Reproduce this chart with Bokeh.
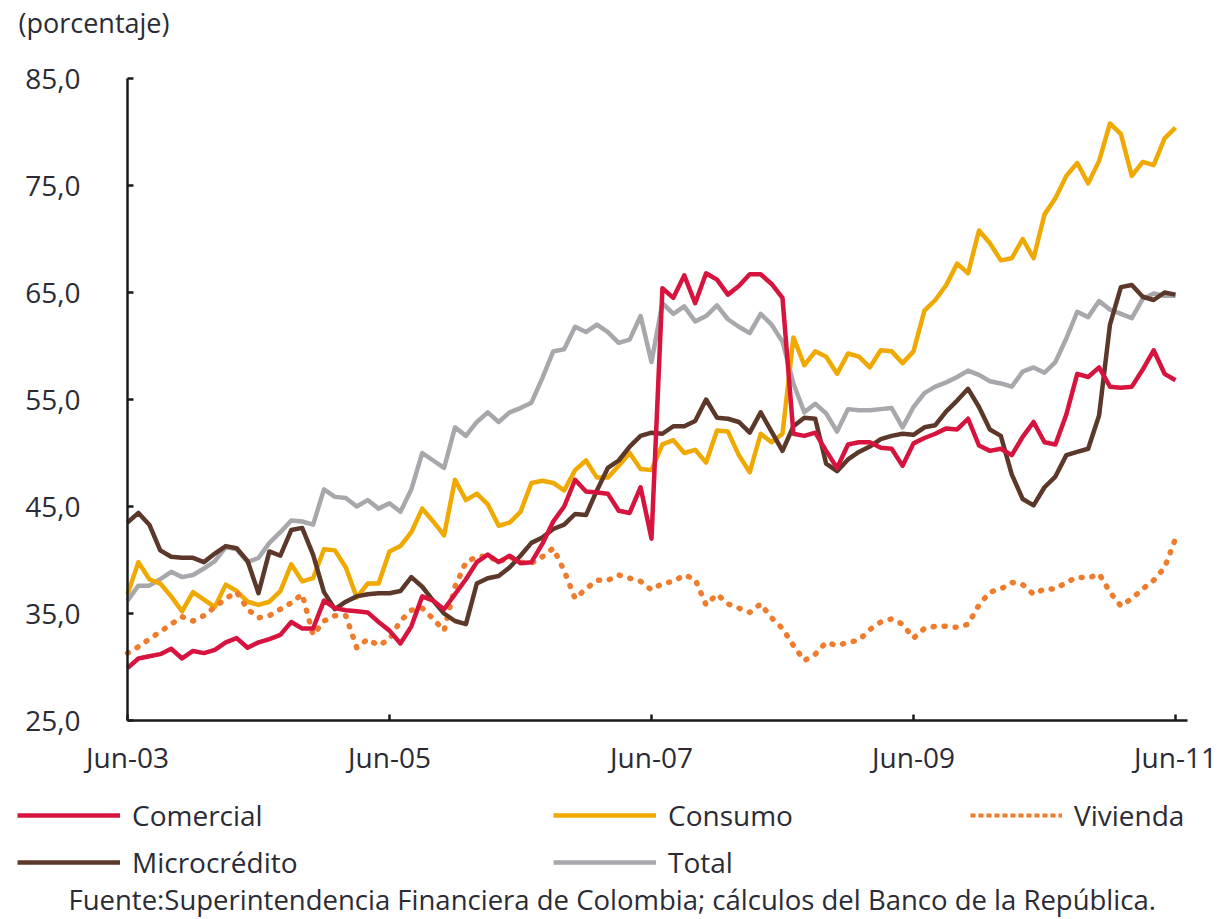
from bokeh.plotting import figure
from bokeh.models import FixedTicker, Range1d, Label, Legend, LegendItem
from bokeh.embed import file_html
from bokeh.resources import INLINE

FONT = "Open Sans"
TXT = "#2b2b36"

# ---------------- data (monthly, Jun-03 .. Jun-11) ----------------
months = list(range(97))

comercial = [
    29.9, 30.8, 31.0, 31.2, 31.7, 30.8, 31.5, 31.3, 31.6, 32.3,
    32.7, 31.8, 32.3, 32.6, 33.0, 34.2, 33.6, 33.6, 36.2, 35.5,
    35.3, 35.2, 35.1, 34.2, 33.4, 32.2, 33.8, 36.6, 36.2, 35.4,
    36.8, 38.2, 39.8, 40.5, 39.8, 40.4, 39.7, 39.8, 41.5, 43.6,
    45.0, 47.5, 46.4, 46.3, 46.2, 44.6, 44.4, 46.8, 42.0, 65.4,
    64.5, 66.6, 64.0, 66.8, 66.2, 64.8, 65.6, 66.7, 66.7, 65.8,
    64.5, 51.8, 51.6, 51.9, 50.2, 48.6, 50.8, 51.0, 51.0, 50.5,
    50.4, 48.8, 50.9, 51.4, 51.8, 52.3, 52.2, 53.2, 50.7, 50.2,
    50.4, 49.8, 51.5, 52.9, 51.0, 50.8, 53.6, 57.4, 57.1, 58.0,
    56.2, 56.1, 56.2, 57.8, 59.6, 57.4, 56.8,
]

consumo = [
    36.8, 39.8, 38.2, 37.8, 36.6, 35.2, 37.0, 36.3, 35.6, 37.7,
    37.1, 36.1, 35.8, 36.1, 37.1, 39.6, 38.0, 38.3, 41.0, 40.9,
    39.3, 36.5, 37.8, 37.8, 40.8, 41.3, 42.6, 44.8, 43.6, 42.3,
    47.5, 45.6, 46.2, 45.2, 43.2, 43.5, 44.5, 47.2, 47.4, 47.2,
    46.5, 48.4, 49.3, 47.7, 47.7, 48.8, 50.0, 48.5, 48.4, 50.8,
    51.2, 50.0, 50.3, 49.1, 52.1, 52.0, 49.8, 48.2, 51.8, 51.0,
    51.8, 60.8, 58.2, 59.5, 59.0, 57.4, 59.3, 59.0, 58.0, 59.6,
    59.5, 58.4, 59.5, 63.3, 64.3, 65.7, 67.7, 66.8, 70.8, 69.6,
    68.0, 68.2, 70.0, 68.2, 72.3, 73.8, 75.9, 77.1, 75.2, 77.3,
    80.8, 79.8, 75.9, 77.2, 76.9, 79.4, 80.4,
]

vivienda = [
    31.3, 31.9, 32.6, 33.3, 34.0, 34.7, 34.3, 34.8, 35.6, 36.4,
    37.0, 35.4, 34.6, 34.8, 35.4, 36.0, 36.8, 33.0, 34.3, 34.8,
    34.8, 31.8, 32.6, 32.0, 32.6, 34.3, 35.3, 35.5, 34.5, 33.4,
    37.5, 39.8, 40.3, 40.4, 39.8, 40.3, 39.8, 39.7, 40.3, 41.1,
    39.0, 36.4, 37.3, 38.1, 38.1, 38.6, 38.3, 38.0, 37.2, 37.8,
    38.0, 38.6, 38.2, 35.8, 36.8, 35.9, 35.5, 35.1, 35.9, 34.6,
    33.6, 32.0, 30.6, 31.2, 32.3, 32.0, 32.3, 32.5, 33.5, 34.2,
    34.5, 34.0, 32.7, 33.6, 33.8, 33.8, 33.7, 34.0, 35.8, 37.0,
    37.3, 37.9, 37.7, 36.8, 37.3, 37.3, 37.9, 38.4, 38.3, 38.7,
    37.0, 35.7, 36.4, 37.3, 38.1, 39.3, 42.0,
]

microcredito = [
    43.5, 44.4, 43.3, 40.9, 40.3, 40.2, 40.2, 39.8, 40.6, 41.3,
    41.1, 39.9, 36.9, 40.8, 40.4, 42.8, 43.0, 40.5, 37.0, 35.4,
    36.1, 36.6, 36.8, 36.9, 36.9, 37.1, 38.4, 37.5, 36.2, 35.0,
    34.3, 34.0, 37.8, 38.3, 38.5, 39.3, 40.4, 41.6, 42.1, 42.9,
    43.3, 44.3, 44.2, 46.5, 48.6, 49.3, 50.6, 51.6, 51.9, 51.8,
    52.5, 52.5, 53.0, 55.0, 53.3, 53.2, 52.9, 51.9, 53.8, 52.0,
    50.2, 52.5, 53.3, 53.2, 49.0, 48.3, 49.4, 50.1, 50.6, 51.3,
    51.6, 51.8, 51.7, 52.4, 52.6, 53.9, 54.9, 56.0, 54.3, 52.2,
    51.6, 48.0, 45.7, 45.1, 46.8, 47.8, 49.8, 50.1, 50.4, 53.5,
    62.0, 65.5, 65.7, 64.6, 64.3, 65.0, 64.8,
]

total = [
    36.2, 37.6, 37.6, 38.2, 38.9, 38.4, 38.6, 39.2, 39.9, 41.2,
    41.0, 39.8, 40.2, 41.6, 42.6, 43.7, 43.6, 43.3, 46.6, 45.9,
    45.8, 45.0, 45.6, 44.8, 45.3, 44.5, 46.6, 50.0, 49.3, 48.6,
    52.4, 51.6, 52.9, 53.8, 52.9, 53.8, 54.2, 54.7, 57.0, 59.5,
    59.7, 61.8, 61.3, 62.0, 61.3, 60.3, 60.6, 62.8, 58.5, 64.0,
    63.0, 63.7, 62.3, 62.8, 63.8, 62.5, 61.8, 61.2, 63.0, 62.0,
    60.4, 56.5, 53.8, 54.6, 53.7, 52.0, 54.1, 54.0, 54.0, 54.1,
    54.2, 52.4, 54.3, 55.6, 56.2, 56.6, 57.1, 57.7, 57.3, 56.7,
    56.5, 56.2, 57.6, 58.0, 57.5, 58.5, 60.7, 63.2, 62.7, 64.2,
    63.4, 63.0, 62.6, 64.4, 64.9, 64.7, 64.7,
]

x_tick_pos = [0, 24, 48, 72, 96]
x_tick_labels = ["Jun-03", "Jun-05", "Jun-07", "Jun-09", "Jun-11"]
y_ticks = [25, 35, 45, 55, 65, 75, 85]
y_tick_labels = ["25,0", "35,0", "45,0", "55,0", "65,0", "75,0", "85,0"]

series_names = ["Comercial", "Consumo", "Vivienda", "Microcrédito", "Total"]
series_colors = {
    "Comercial": "#D6143E",
    "Consumo": "#F0A900",
    "Vivienda": "#EF7B2C",
    "Microcrédito": "#5C382B",
    "Total": "#A7A7AC",
}
series_data = {
    "Comercial": comercial,
    "Consumo": consumo,
    "Vivienda": vivienda,
    "Microcrédito": microcredito,
    "Total": total,
}
source_text = "Fuente:Superintendencia Financiera de Colombia; cálculos del Banco de la República."
unit_text = "(porcentaje)"

# ---------------- geometry (pixels) ----------------
W, H = 1226, 917
AX_LEFT, AX_RIGHT = 127, 1187      # page x of the plotting area
AX_TOP, AX_BOTTOM = 78, 720        # page y of the plotting area
X_MIN, X_MAX = 0, 97.1
Y_MIN, Y_MAX = 25, 85
sx = (AX_RIGHT - AX_LEFT) / (X_MAX - X_MIN)
sy = (AX_BOTTOM - AX_TOP) / (Y_MAX - Y_MIN)
x_range = Range1d(X_MIN - AX_LEFT / sx, X_MAX + (W - AX_RIGHT) / sx)
y_range = Range1d(Y_MIN - (H - AX_BOTTOM) / sy, Y_MAX + AX_TOP / sy)


def xd(page_x):
    return X_MIN + (page_x - AX_LEFT) / sx


def yd(page_y):
    return Y_MAX - (page_y - AX_TOP) / sy


p = figure(width=W, height=H, x_range=x_range, y_range=y_range,
           toolbar_location=None, output_backend="svg", min_border=0)
p.grid.visible = False
p.outline_line_color = None
p.background_fill_color = "white"
p.border_fill_color = "white"

renderers = {}
draw_order = ["Total", "Consumo", "Vivienda", "Microcrédito", "Comercial"]
for name in draw_order:
    if name == "Vivienda":
        renderers[name] = p.line(months, series_data[name], line_color=series_colors[name],
                                 line_width=5.5, line_dash="1 10", line_cap="round", line_join="round")
    else:
        renderers[name] = p.line(months, series_data[name], line_color=series_colors[name],
                                 line_width=4.5, line_join="round")

# legend key for the dotted series (short dashes as in the original key); draws nothing in the plot
nan = float("nan")
viv_key = p.line(x=[nan], y=[nan], line_color=series_colors["Vivienda"], line_width=4, line_dash="5 3")
legend_renderers = dict(renderers)
legend_renderers["Vivienda"] = viv_key

# axes fixed at the edges of the data area
p.xaxis.fixed_location = Y_MIN
p.xaxis.bounds = (X_MIN, X_MAX)
p.yaxis.fixed_location = X_MIN
p.yaxis.bounds = (Y_MIN, Y_MAX)
for ax in (p.xaxis[0], p.yaxis[0]):
    ax.axis_line_color = "#1a1a1a"
    ax.axis_line_width = 2.5
    ax.major_tick_line_color = "#1a1a1a"
    ax.major_tick_line_width = 2.5
    ax.major_tick_in = 6
    ax.major_tick_out = 0
    ax.minor_tick_line_color = None
    ax.major_label_text_font = FONT
    ax.major_label_text_font_size = "28px"
    ax.major_label_text_color = TXT

p.xaxis.ticker = FixedTicker(ticks=x_tick_pos)
p.xaxis.major_label_overrides = {t: l for t, l in zip(x_tick_pos, x_tick_labels)}
p.xaxis.major_label_standoff = 17
p.yaxis.ticker = FixedTicker(ticks=y_ticks)
p.yaxis.major_label_overrides = {t: l for t, l in zip(y_ticks, y_tick_labels)}
p.yaxis.major_label_standoff = 47

# ---------------- legend ----------------
ROW1_BOTTOM, ROW2_BOTTOM = 834, 881   # page y of the lower edge of each legend row
legend_pos = {
    "Comercial": (17, H - ROW1_BOTTOM),
    "Consumo": (553, H - ROW1_BOTTOM),
    "Vivienda": (970, H - ROW1_BOTTOM),
    "Microcrédito": (17, H - ROW2_BOTTOM),
    "Total": (553, H - ROW2_BOTTOM),
}
key_width = {"Comercial": 103, "Consumo": 103, "Vivienda": 92, "Microcrédito": 103, "Total": 103}
for name in series_names:
    lg = Legend(items=[LegendItem(label=name, renderers=[legend_renderers[name]])],
                location=legend_pos[name], orientation="horizontal",
                glyph_width=key_width[name], glyph_height=20, label_standoff=12,
                label_text_font=FONT, label_text_font_size="28px", label_text_color=TXT,
                border_line_color=None, background_fill_alpha=0,
                padding=0, margin=0, spacing=0)
    p.add_layout(lg, "center")

# ---------------- texts ----------------
p.add_layout(Label(x=xd(18), y=yd(22), text=unit_text, text_font=FONT, text_font_size="27px",
                   text_color=TXT, text_align="left", text_baseline="middle"))
p.add_layout(Label(x=xd(68), y=yd(899), text=source_text, text_font=FONT, text_font_size="27.5px",
                   text_color=TXT, text_align="left", text_baseline="middle"))

open("out.html", "w").write(file_html(p, INLINE))
